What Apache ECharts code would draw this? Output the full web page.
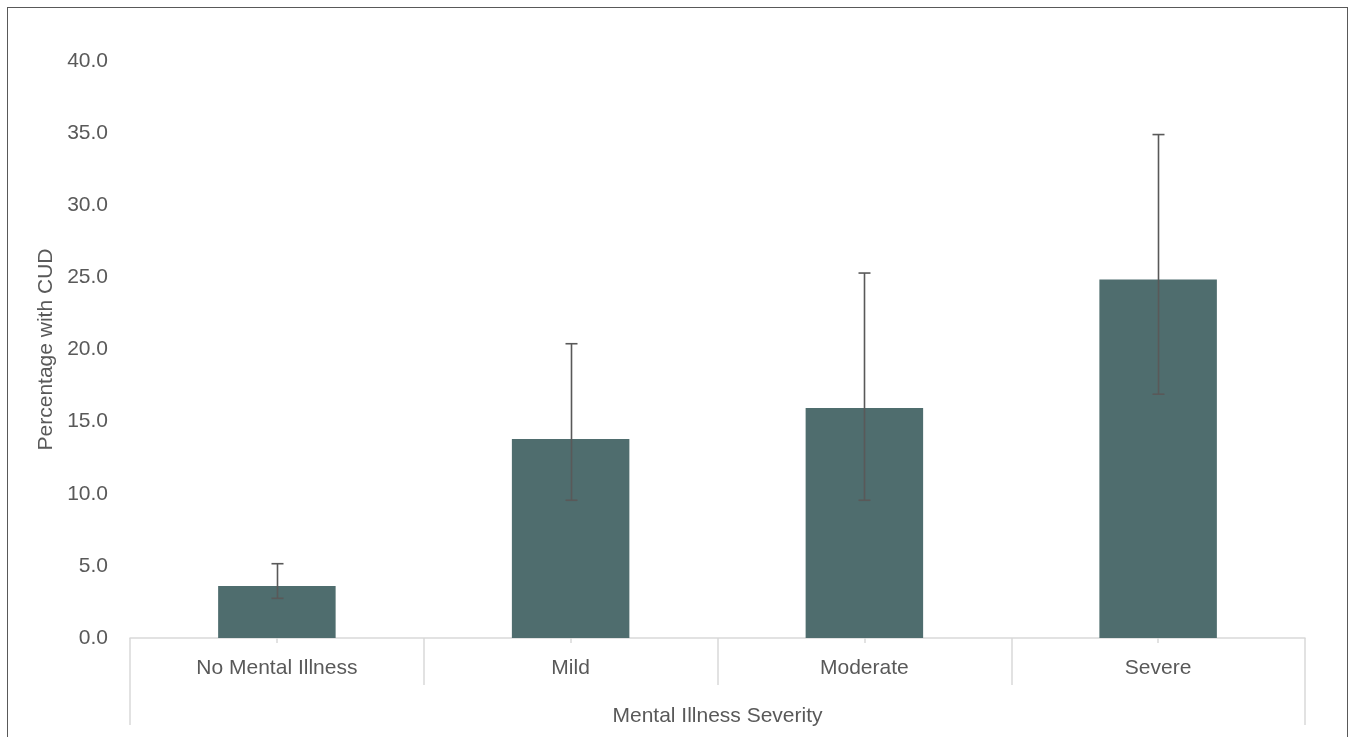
<!DOCTYPE html>
<html><head><meta charset="utf-8">
<script src="https://cdn.jsdelivr.net/npm/echarts@6/dist/echarts.min.js"></script>
<style>
html,body{margin:0;padding:0;background:#fff;}
#c{width:1349px;height:737px;}
#b{position:absolute;left:7px;top:7px;width:1341px;height:740px;border:1.5px solid #595959;box-sizing:border-box;pointer-events:none;}
</style></head>
<body>
<div id="c"></div>
<div id="b"></div>
<script>
const categories = ['No Mental Illness', 'Mild', 'Moderate', 'Severe'];
const values = [3.6, 13.8, 15.95, 24.85];
const errLow = [2.75, 9.55, 9.55, 16.9];
const errHigh = [5.15, 20.4, 25.3, 34.9];
const groupTitle = ['Mental Illness Severity'];

const font = 'Liberation Sans, Arial, sans-serif';
const txt = '#595959';
const fs = 21;
const chart = echarts.init(document.getElementById('c'));
chart.setOption({
  animation: false,
  grid: { left: 130, right: 44, top: 61, bottom: 99 },
  xAxis: [
    { type: 'category', data: categories, position: 'bottom',
      axisLine: { lineStyle: { color: '#d9d9d9', width: 1.5 } },
      axisTick: { show: true, length: 47, lineStyle: { color: '#d9d9d9', width: 1.5 } },
      axisLabel: { color: txt, fontSize: fs, fontFamily: font, margin: 20 } },
    { type: 'category', data: categories, position: 'bottom', offset: 0,
      axisLine: { show: false },
      axisTick: { show: true, alignWithLabel: true, length: 5, lineStyle: { color: '#d9d9d9', width: 1.5 } },
      axisLabel: { show: false } },
    { type: 'category', data: groupTitle, position: 'bottom', offset: 0,
      axisLine: { show: false },
      axisTick: { show: true, length: 87, lineStyle: { color: '#d9d9d9', width: 1.5 } },
      axisLabel: { color: txt, fontSize: fs, fontFamily: font, margin: 68 } }
  ],
  yAxis: {
    type: 'value', min: 0, max: 40, interval: 5,
    name: 'Percentage with CUD', nameLocation: 'middle', nameGap: 73,
    nameTextStyle: { color: txt, fontSize: fs, fontFamily: font },
    axisLine: { show: false }, axisTick: { show: false }, splitLine: { show: false },
    axisLabel: { color: txt, fontSize: fs, fontFamily: font, margin: 22, formatter: v => v.toFixed(1) }
  },
  series: [
    { type: 'bar', data: values, barWidth: '40%', itemStyle: { color: '#4f6d6e' } },
    { type: 'custom', z: 10,
      data: categories.map((c, i) => [i, errLow[i], errHigh[i]]),
      encode: { x: 0, y: [1, 2] },
      renderItem: function (params, api) {
        const lo = api.coord([api.value(0), api.value(1)]);
        const hi = api.coord([api.value(0), api.value(2)]);
        const x = Math.round(lo[0]) + 0.5;
        const w = 6;
        const st = { stroke: '#595959', lineWidth: 1.6 };
        return { type: 'group', children: [
          { type: 'line', shape: { x1: x, y1: lo[1], x2: x, y2: hi[1] }, style: st },
          { type: 'line', shape: { x1: x - w, y1: lo[1], x2: x + w, y2: lo[1] }, style: st },
          { type: 'line', shape: { x1: x - w, y1: hi[1], x2: x + w, y2: hi[1] }, style: st }
        ]};
      }
    }
  ]
});
</script>
</body></html>
